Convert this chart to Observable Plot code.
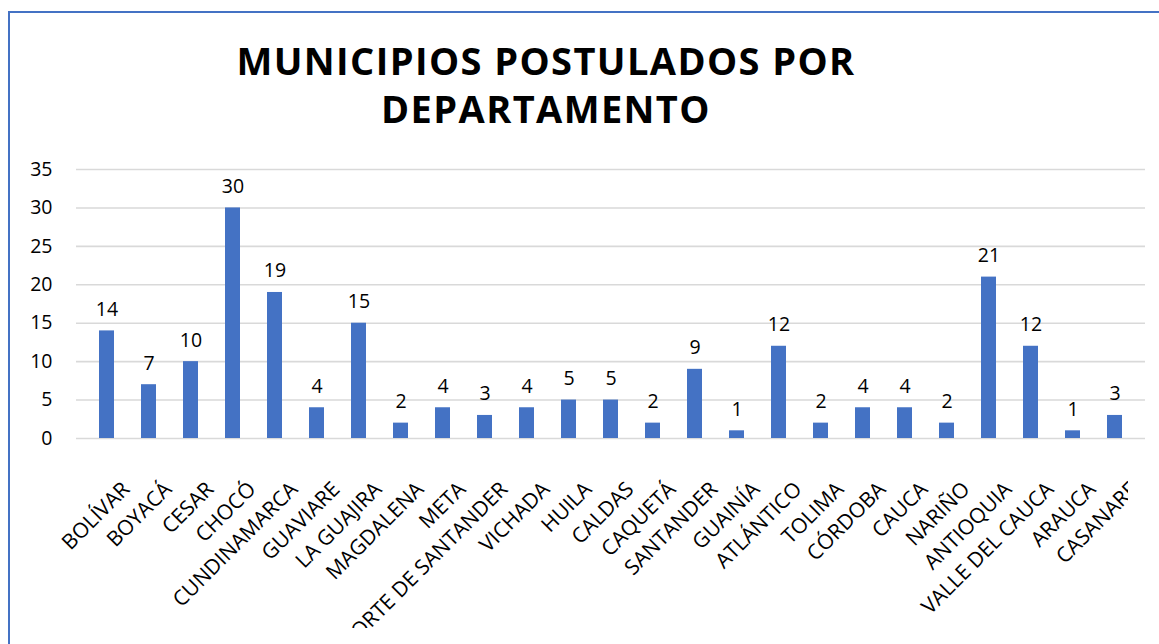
<!DOCTYPE html>
<html>
<head>
<meta charset="utf-8">
<script src="https://cdn.jsdelivr.net/npm/d3@7"></script>
<script src="https://cdn.jsdelivr.net/npm/@observablehq/plot@0.6"></script>
<style>
  html, body { margin: 0; padding: 0; background: #fff; }
  #wrap { position: relative; width: 1159px; height: 644px; overflow: hidden; background: #fff; font-family: "Open Sans", sans-serif; }
  #title { position: absolute; left: 0; top: 36px; width: 1092px; text-align: center; font-family: "Open Sans", sans-serif; font-weight: 700; font-size: 38px; line-height: 48px; letter-spacing: 1.4px; color: #000; }
  #chart { position: absolute; left: 0; top: 0; }
  .bl { position: absolute; background: #4472C4; }
</style>
</head>
<body>
<div id="wrap">
  <div id="chart"></div>
  <div id="title">MUNICIPIOS POSTULADOS POR<br>DEPARTAMENTO</div>
  <div class="bl" style="left:8px; top:11px; width:1151px; height:2px;"></div>
  <div class="bl" style="left:8px; top:11px; width:2px; height:633px;"></div>
</div>
<script>
const departamentos = ["BOLÍVAR", "BOYACÁ", "CESAR", "CHOCÓ", "CUNDINAMARCA", "GUAVIARE", "LA GUAJIRA", "MAGDALENA", "META", "NORTE DE SANTANDER", "VICHADA", "HUILA", "CALDAS", "CAQUETÁ", "SANTANDER", "GUAINÍA", "ATLÁNTICO", "TOLIMA", "CÓRDOBA", "CAUCA", "NARIÑO", "ANTIOQUIA", "VALLE DEL CAUCA", "ARAUCA", "CASANARE"];
const municipios = [14, 7, 10, 30, 19, 4, 15, 2, 4, 3, 4, 5, 5, 2, 9, 1, 12, 2, 4, 4, 2, 21, 12, 1, 3];
const yTicks = [0, 5, 10, 15, 20, 25, 30, 35];

const data = departamentos.map((d, i) => ({name: d, value: municipios[i]}));
const font = "Open Sans, sans-serif";

const svg = Plot.plot({
  width: 1159,
  height: 628,
  marginLeft: 76,
  marginRight: 14,
  marginTop: 169,
  marginBottom: 190,
  style: {background: "transparent", overflow: "hidden", fontFamily: font, color: "#000"},
  x: {domain: departamentos, axis: null, paddingInner: 0.65, paddingOuter: 0.325},
  y: {domain: [0, 35], axis: null},
  marks: [
    Plot.ruleY(yTicks, {stroke: "#d9d9d9", strokeWidth: 1.6}),
    Plot.axisY(yTicks, {label: null, tickSize: 0, tickPadding: 24, fontSize: 19.5, fill: "#000"}),
    Plot.barY(data, {x: "name", y: "value", fill: "#4472C4"}),
    Plot.text(data, {x: "name", y: "value", text: d => String(d.value), lineAnchor: "bottom", dy: -15, fontSize: 19.5, fill: "#000"}),
    Plot.text(data, {x: "name", frameAnchor: "bottom", text: "name", rotate: -45, textAnchor: "end", lineAnchor: "bottom", dx: 24, dy: 52, fontSize: 21, fill: "#000"})
  ]
});

// clip x labels at the chart area's right edge
const ns = "http://www.w3.org/2000/svg";
const defs = document.createElementNS(ns, "defs");
const cp = document.createElementNS(ns, "clipPath");
cp.setAttribute("id", "xclip");
cp.setAttribute("clipPathUnits", "userSpaceOnUse");
const r = document.createElementNS(ns, "rect");
r.setAttribute("x", 0); r.setAttribute("y", 0);
r.setAttribute("width", 1128); r.setAttribute("height", 628);
cp.appendChild(r); defs.appendChild(cp);
svg.insertBefore(defs, svg.firstChild);
const last = Array.from(svg.querySelectorAll("text")).find(t => t.textContent === departamentos[departamentos.length - 1]);
if (last) {
  const g = last.parentNode;
  const wrapG = document.createElementNS(ns, "g");
  wrapG.setAttribute("clip-path", "url(#xclip)");
  g.parentNode.insertBefore(wrapG, g);
  wrapG.appendChild(g);
}
document.getElementById("chart").appendChild(svg);
</script>
</body>
</html>
